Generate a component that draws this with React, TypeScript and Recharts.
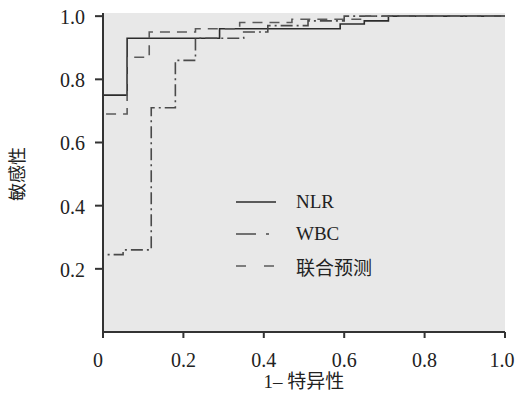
import React from "react"
import {
  LineChart,
  Line,
  XAxis,
  YAxis,
  CartesianGrid,
} from "recharts"

// ROC coordinates (1 - specificity, sensitivity)
const nlrX = [0, 0, 0.06, 0.06, 0.29, 0.29, 0.59, 0.59, 0.65, 0.65, 0.71, 0.71, 1]
const nlrY = [0, 0.75, 0.75, 0.93, 0.93, 0.96, 0.96, 0.975, 0.975, 0.985, 0.985, 1, 1]

const wbcX = [0, 0, 0.05, 0.05, 0.12, 0.12, 0.18, 0.18, 0.23, 0.23, 0.35, 0.35, 0.41, 0.41, 0.51, 0.51, 0.6, 0.6, 1]
const wbcY = [0, 0.245, 0.245, 0.26, 0.26, 0.71, 0.71, 0.86, 0.86, 0.93, 0.93, 0.95, 0.95, 0.97, 0.97, 0.985, 0.985, 1, 1]

const combX = [0, 0, 0.06, 0.06, 0.115, 0.115, 0.23, 0.23, 0.34, 0.34, 0.47, 0.47, 0.65, 0.65, 1]
const combY = [0, 0.69, 0.69, 0.87, 0.87, 0.95, 0.95, 0.96, 0.96, 0.98, 0.98, 0.99, 0.99, 1, 1]

const xTicks = [0, 0.2, 0.4, 0.6, 0.8, 1]
const yTicks = [0.2, 0.4, 0.6, 0.8, 1]

const seriesNames = ["NLR", "WBC", "联合预测"]

const toPoints = (xs: number[], ys: number[]) => xs.map((x, i) => ({ x, y: ys[i] }))

const SERIF = "Liberation Serif, DejaVu Serif, Noto Sans CJK SC, serif"

// solid / dash-dot / dashed
const styles = [
  { stroke: "#2b2b2b", dash: undefined as string | undefined, key: undefined as string | undefined },
  { stroke: "#4a4a4a", dash: "12 4 2 4", key: "20 10 3 10" },
  { stroke: "#5a5a5a", dash: "10 7", key: "10 18" },
]

const fmt = (v: number) => (v === 0 ? "0" : v.toFixed(1))

// own tick text so the serif face and size are sure to apply
const XTick = (props: any) => {
  const { x, y, payload } = props
  // end labels sit a little inward, as in the original
  const dx = payload.value === 0 ? -5 : payload.value === 1 ? -3 : 0
  return (
    <text x={x} y={y} dx={dx} dy={27} textAnchor="middle" fill="#222" fontSize={20} fontFamily={SERIF}>
      {fmt(payload.value)}
    </text>
  )
}

const YTick = (props: any) => {
  const { x, y, payload } = props
  return (
    <text x={x} y={y} dy={8} textAnchor="end" fill="#222" fontSize={20} fontFamily={SERIF}>
      {fmt(payload.value)}
    </text>
  )
}

// legend sits inside the plot, drawn as an overlay so it takes no room from the chart
const LegendBox = () => (
  <div
    style={{
      position: "absolute",
      left: 234,
      top: 186,
      fontSize: 19,
      color: "#222",
      fontFamily: SERIF,
    }}
  >
    {seriesNames.map((name, i) => (
      <div key={name} style={{ display: "flex", alignItems: "center", height: 32 }}>
        <svg width={62} height={10}>
          <line
            x1={2}
            y1={5}
            x2={42}
            y2={5}
            stroke={styles[i].stroke}
            strokeWidth={1.6}
            strokeDasharray={styles[i].key}
          />
        </svg>
        <span>{name}</span>
      </div>
    ))}
  </div>
)

export default function App() {
  return (
    <div
      style={{
        position: "absolute",
        left: 0,
        top: 0,
        width: 515,
        height: 412,
        background: "#fff",
      }}
    >
      <LineChart
        width={515}
        height={412}
        margin={{ top: 13, right: 10, bottom: 0, left: 0 }}
      >
        <CartesianGrid fill="#e8e8e8" horizontal={false} vertical={false} stroke="none" />
        <XAxis
          dataKey="x"
          type="number"
          domain={[0, 1]}
          ticks={xTicks}
          height={80}
          tickSize={6}
          tickMargin={2}
          axisLine={{ stroke: "#333", strokeWidth: 2 }}
          tickLine={{ stroke: "#333", strokeWidth: 2 }}
          tick={<XTick />}
          label={{
            content: () => (
              <text x={304} y={388} textAnchor="middle" fill="#222" fontSize={19} fontFamily={SERIF}>
                1– 特异性
              </text>
            ),
          }}
        />
        <XAxis
          xAxisId="top"
          orientation="top"
          type="number"
          domain={[0, 1]}
          height={0}
          tick={false}
          tickLine={false}
          axisLine={{ stroke: "#444", strokeWidth: 2 }}
        />
        <YAxis
          type="number"
          domain={[0, 1.01]}
          ticks={yTicks}
          width={103}
          tickSize={8}
          tickMargin={10}
          axisLine={{ stroke: "#333", strokeWidth: 2 }}
          tickLine={{ stroke: "#333", strokeWidth: 2 }}
          tick={<YTick />}
          label={{
            content: () => (
              <text
                x={24}
                y={174}
                transform="rotate(-90 24 174)"
                textAnchor="middle"
                fill="#222"
                fontSize={18}
                fontFamily={SERIF}
              >
                敏感性
              </text>
            ),
          }}
        />
        <YAxis
          yAxisId="right"
          orientation="right"
          type="number"
          domain={[0, 1.01]}
          width={0}
          tick={false}
          tickLine={false}
          axisLine={{ stroke: "#333", strokeWidth: 2 }}
        />
        <Line
          data={toPoints(nlrX, nlrY)}
          dataKey="y"
          type="linear"
          stroke={styles[0].stroke}
          strokeWidth={1.6}
          dot={false}
          isAnimationActive={false}
        />
        <Line
          data={toPoints(wbcX, wbcY)}
          dataKey="y"
          type="linear"
          stroke={styles[1].stroke}
          strokeDasharray={styles[1].dash}
          strokeWidth={1.6}
          dot={false}
          isAnimationActive={false}
        />
        <Line
          data={toPoints(combX, combY)}
          dataKey="y"
          type="linear"
          stroke={styles[2].stroke}
          strokeDasharray={styles[2].dash}
          strokeWidth={1.6}
          dot={false}
          isAnimationActive={false}
        />
      </LineChart>
      <LegendBox />
    </div>
  )
}
